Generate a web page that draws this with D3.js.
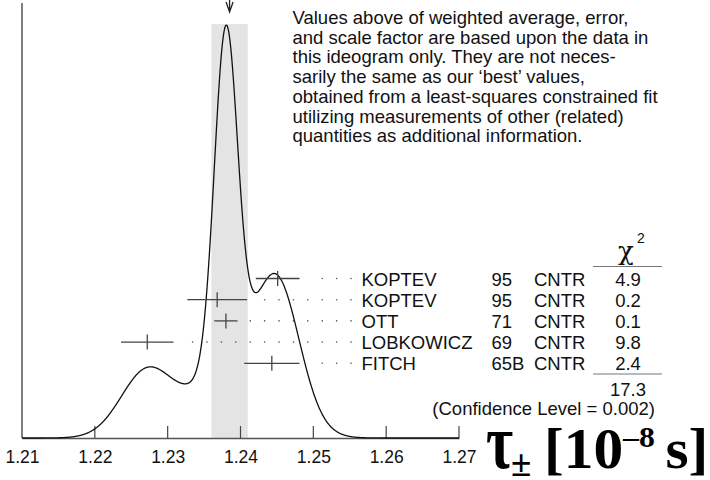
<!DOCTYPE html>
<html>
<head>
<meta charset="utf-8">
<script src="https://cdn.jsdelivr.net/npm/d3@7"></script>
<style>
  body { margin: 0; background: #fff; }
  svg text { font-family: "Liberation Sans", Arial, Helvetica, sans-serif; fill: #111; }
  svg text.quantity { font-family: "Liberation Serif", "Times New Roman", serif; font-weight: bold; fill: #000; }
</style>
</head>
<body>
<div id="chart"></div>
<script>
// measurements entering the ideogram
var names = ["KOPTEV", "KOPTEV", "OTT", "LOBKOWICZ", "FITCH"];
var years = ["95", "95", "71", "69", "65B"];
var techs = ["CNTR", "CNTR", "CNTR", "CNTR", "CNTR"];
var values = [1.2451, 1.2368, 1.2380, 1.2272, 1.2443];
var errors = [0.0030, 0.0041, 0.0016, 0.0036, 0.0038];
var chi2 = ["4.9", "0.2", "0.1", "9.8", "2.4"];
var chi2Total = "17.3";
var confLevel = "(Confidence Level = 0.002)";

// weighted average and scaled error
var average = 1.2385;
var averageErr = 0.0025;

var xTicks = [1.21, 1.22, 1.23, 1.24, 1.25, 1.26, 1.27];

var note = [
    "Values above of weighted average, error,",
    "and scale factor are based upon the data in",
    "this ideogram only.  They are not neces-",
    "sarily the same as our \u2018best\u2019 values,",
    "obtained from a least-squares constrained fit",
    "utilizing measurements of other (related)",
    "quantities as additional information."
];

var chart = {
    svgWidth: 710,
    svgHeight: 480,
    axisY: 438,
    topY: 3,
    left: 22,
    right: 459,
    rowTop: 278.5,
    rowStep: 21.2,
    fontSize: "18.5px"
};

var svg = d3.select("#chart").append("svg")
    .attr("width", chart.svgWidth)
    .attr("height", chart.svgHeight);

var xScale = d3.scaleLinear()
    .domain([1.21, 1.27])
    .range([chart.left, chart.right]);

// ideogram: each measurement a gaussian with area proportional to 1/sigma
function ideogram(x) {
    var s = 0;
    for (var i = 0; i < values.length; i++) {
        var z = (x - values[i]) / errors[i];
        s += Math.exp(-0.5 * z * z) / (errors[i] * errors[i]);
    }
    return s;
}
var curve = d3.range(1.21, 1.27 + 1e-9, 0.00005).map(x => [x, ideogram(x)]);

var yScale = d3.scaleLinear()
    .domain([0, d3.max(curve, d => d[1])])
    .range([chart.axisY, 25]);

// shaded band for the average +- error
svg.append("rect")
    .attr("x", xScale(average - averageErr))
    .attr("y", 24)
    .attr("width", xScale(average + averageErr) - xScale(average - averageErr))
    .attr("height", chart.axisY - 24)
    .attr("fill", "#e4e4e4");

// arrow marking the average
var ax = xScale(average);
svg.append("path")
    .attr("d", "M" + ax + ",0V12M" + (ax - 3.5) + ",2L" + ax + ",12L" + (ax + 3.5) + ",2")
    .attr("fill", "none")
    .attr("stroke", "#222")
    .attr("stroke-width", 1.3);

// axes
var xAxis = d3.axisBottom(xScale)
    .tickValues(xTicks)
    .tickSize(0)
    .tickPadding(12.5)
    .tickFormat(d3.format(".2f"));

var gx = svg.append("g")
    .attr("class", "xAxis")
    .attr("transform", "translate(0," + chart.axisY + ")")
    .call(xAxis);
gx.select(".domain").attr("stroke", "#555").attr("stroke-width", 1.5);
gx.selectAll("text")
    .attr("font-size", "17.5px")
    .attr("fill", "#111");

svg.selectAll("line.xtick")
    .data(xTicks.slice(1))
    .enter().append("line")
    .attr("class", "xtick")
    .attr("x1", d => xScale(d)).attr("x2", d => xScale(d))
    .attr("y1", chart.axisY).attr("y2", chart.axisY - 12)
    .attr("stroke", "#444").attr("stroke-width", 1.2);

svg.append("line")
    .attr("x1", chart.left).attr("x2", chart.left)
    .attr("y1", chart.topY).attr("y2", chart.axisY)
    .attr("stroke", "#555").attr("stroke-width", 1.5);

// ideogram curve
svg.append("path")
    .datum(curve)
    .attr("d", d3.line().x(d => xScale(d[0])).y(d => yScale(d[1])).curve(d3.curveBasis))
    .attr("fill", "none")
    .attr("stroke", "#111")
    .attr("stroke-width", 1.3);

// error bars
var rows = svg.selectAll("g.row")
    .data(values.map((v, i) => ({v: v, e: errors[i], i: i})))
    .enter().append("g")
    .attr("class", "row")
    .attr("transform", d => "translate(0," + (chart.rowTop + d.i * chart.rowStep) + ")");

rows.append("line")
    .attr("x1", d => xScale(d.v - d.e)).attr("x2", d => xScale(d.v + d.e))
    .attr("y1", 0).attr("y2", 0)
    .attr("stroke", "#444").attr("stroke-width", 1.3);
rows.append("line")
    .attr("x1", d => xScale(d.v)).attr("x2", d => xScale(d.v))
    .attr("y1", -7.5).attr("y2", 7.5)
    .attr("stroke", "#444").attr("stroke-width", 1.3);

// dotted leaders on a common grid ending just before the names
var dotEnd = 351, dotStep = 14.4;
rows.each(function(d) {
    var barEnd = xScale(d.v + d.e);
    var xs = [];
    for (var x = dotEnd; x >= barEnd + 10; x -= dotStep) xs.push(x);
    d3.select(this).selectAll("circle")
        .data(xs).enter().append("circle")
        .attr("cx", x => x).attr("cy", 0).attr("r", 0.8)
        .attr("fill", "#555");
});

var textRow = (d, i) => chart.rowTop + 7 + i * chart.rowStep;

svg.selectAll("text.name").data(names).enter().append("text")
    .attr("class", "name")
    .attr("x", 361.5).attr("y", textRow)
    .attr("font-size", chart.fontSize)
    .text(d => d);

svg.selectAll("text.year").data(years).enter().append("text")
    .attr("class", "year")
    .attr("x", 491.5).attr("y", textRow)
    .attr("font-size", chart.fontSize)
    .text(d => d);

svg.selectAll("text.tech").data(techs).enter().append("text")
    .attr("class", "tech")
    .attr("x", 534).attr("y", textRow)
    .attr("font-size", chart.fontSize)
    .text(d => d);

svg.selectAll("text.chi").data(chi2).enter().append("text")
    .attr("class", "chi")
    .attr("x", 628).attr("y", textRow)
    .attr("text-anchor", "middle")
    .attr("font-size", chart.fontSize)
    .text(d => d);

// chi-squared column header, rules and totals
svg.append("text")
    .attr("x", 626).attr("y", 260)
    .attr("text-anchor", "middle")
    .attr("font-size", "26px")
    .style("font-family", "'DejaVu Serif', serif")
    .text("\u03c7");
svg.append("text")
    .attr("x", 637).attr("y", 243)
    .attr("font-size", "14px")
    .text("2");

svg.selectAll("line.rule").data([266.5, 374]).enter().append("line")
    .attr("class", "rule")
    .attr("x1", 593).attr("x2", 662)
    .attr("y1", d => d).attr("y2", d => d)
    .attr("stroke", "#777").attr("stroke-width", 1.2);

svg.append("text")
    .attr("x", 628).attr("y", 396)
    .attr("text-anchor", "middle")
    .attr("font-size", chart.fontSize)
    .text(chi2Total);

svg.append("text")
    .attr("x", 655).attr("y", 415)
    .attr("text-anchor", "end")
    .attr("font-size", chart.fontSize)
    .text(confLevel);

// explanatory note
svg.append("g").selectAll("text").data(note).enter().append("text")
    .attr("x", 292.5)
    .attr("y", (d, i) => 24 + i * 19.7)
    .attr("font-size", chart.fontSize)
    .text(d => d);

// quantity label: tall tau with subscript, then the unit
svg.append("text")
    .attr("class", "quantity")
    .attr("transform", "translate(486,468) scale(1.05,1.4)")
    .attr("font-size", "56px")
    .text("\u03c4");
svg.append("text")
    .attr("class", "quantity")
    .attr("x", 511).attr("y", 476)
    .attr("font-size", "37px")
    .text("\u00b1");
var unit = svg.append("text")
    .attr("class", "quantity")
    .attr("transform", "translate(544,468) scale(1.06,1)")
    .attr("font-size", "56px");
unit.append("tspan").text("[10");
unit.append("tspan").attr("font-size", "30px").attr("dy", -21).text("\u20138");
unit.append("tspan").attr("dy", 21).attr("dx", -4).text(" s]");
</script>
</body>
</html>
